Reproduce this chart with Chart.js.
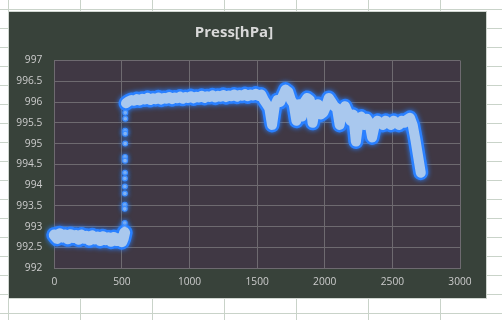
<!DOCTYPE html>
<html>
<head>
<meta charset="utf-8">
<script src="https://cdn.jsdelivr.net/npm/chart.js@4/dist/chart.umd.min.js"></script>
<style>
html,body{margin:0;padding:0;background:#fff;}
#wrap{position:absolute;left:0;top:0;width:502px;height:320px;}
</style>
</head>
<body>
<div id="wrap"><canvas id="c" width="502" height="320"></canvas></div>
<script>
// ---- data ----
const titleText = "Press[hPa]";
const xTicks = [0, 500, 1000, 1500, 2000, 2500, 3000];
const yTicks = [992, 992.5, 993, 993.5, 994, 994.5, 995, 995.5, 996, 996.5, 997];

const lowX = [0,20,40,60,80,100,120,140,160,180,200,220,240,260,280,300,320,340,360,380,400,420,440,460,480,500,510,520];
const lowP = [992.80,992.72,992.83,992.75,992.80,992.71,992.81,992.74,992.79,992.70,992.80,992.73,992.77,992.68,992.78,992.71,992.75,992.67,992.76,992.69,992.73,992.65,992.74,992.67,992.71,992.64,992.72,992.86];

const jumpX = [525,525,524,524,524,523,523,523,522,522,522,521,521,521,520];
const jumpP = [995.74,995.60,995.31,995.24,995.00,994.68,994.59,994.30,994.16,993.97,993.80,993.53,993.43,993.09,992.97];

const highX = [530,550,570,590,610,630,650,670,690,710,730,750,770,790,810,830,850,870,890,910,930,950,970,990,
  1010,1030,1050,1070,1090,1110,1130,1150,1170,1190,1210,1230,1250,1270,1290,1310,1330,1350,1370,1390,1410,1430,1450,1470,1490,
  1510,1530,1550,1570,1590,1610,1630,1650,1670,1690,1710,1730,1750,1770,1790,1810,1830,1850,1870,1890,1910,1930,1950,1970,1990,
  2010,2030,2050,2070,2090,2110,2130,2150,2170,2190,2210,2230,2250,2270,2290,2310,2330,2350,2370,2390,2410,2430,2450,2470,2490,
  2510,2530,2550,2570,2590,2610,2630,2650,2670,2690,2710];
const highP = [995.97,996.02,996.05,996.03,996.07,996.04,996.08,996.06,996.10,996.05,996.09,996.07,996.11,996.06,996.10,996.08,996.12,996.07,996.11,996.09,996.13,996.08,996.12,996.10,
  996.14,996.09,996.13,996.11,996.15,996.10,996.14,996.12,996.16,996.11,996.15,996.13,996.17,996.12,996.16,996.14,996.18,996.13,996.17,996.15,996.19,996.14,996.18,996.16,996.20,
  996.15,996.18,996.05,995.95,995.85,995.45,995.90,996.05,996.00,996.15,996.30,996.25,996.05,995.95,995.55,995.95,995.65,996.00,996.10,996.05,995.50,995.85,995.95,995.70,995.75,
  995.90,996.10,996.00,995.90,995.85,995.45,995.80,995.90,995.75,995.55,995.70,995.05,995.55,995.65,995.45,995.60,995.50,995.15,995.45,995.55,995.50,995.45,995.55,995.50,995.45,
  995.55,995.50,995.45,995.55,995.50,995.58,995.62,995.45,995.10,994.70,994.30];

// ---- build ----
const pts = (xs, ys) => xs.map((x, i) => ({x: x, y: ys[i]}));
const lowData = pts(lowX, lowP);
const jumpData = pts(jumpX, jumpP);
const highData = pts(highX, highP);

const CORE = '#a9c8ee';
const GLOW = '#2a80ff';

function lineSet(data, color, width, glow) {
  return {
    data: data, showLine: true, borderColor: color, borderWidth: width,
    pointRadius: 0, borderJoinStyle: 'round', borderCapStyle: 'round',
    tension: 0, fill: false, glow: glow, clip: 10
  };
}

const sheetPlugin = {
  id: 'sheet',
  beforeDraw(chart) {
    const ctx = chart.ctx;
    ctx.save();
    ctx.fillStyle = '#ffffff';
    ctx.fillRect(0, 0, 502, 320);
    ctx.strokeStyle = '#c9d3c9';
    ctx.lineWidth = 1;
    for (let x = 8; x < 502; x += 72) {
      ctx.beginPath(); ctx.moveTo(x + 0.5, 0); ctx.lineTo(x + 0.5, 320); ctx.stroke();
    }
    for (let y = 9.3; y < 320; y += 19) {
      const yy = Math.round(y) + 0.5;
      ctx.beginPath(); ctx.moveTo(0, yy); ctx.lineTo(502, yy); ctx.stroke();
    }
    ctx.fillStyle = '#38423a';
    ctx.fillRect(8, 11.5, 479, 287.5);
    ctx.strokeStyle = '#d0d6d0';
    ctx.strokeRect(8.5, 11.5, 478, 287);
    const a = chart.chartArea;
    ctx.fillStyle = '#403844';
    ctx.fillRect(a.left, a.top, a.right - a.left, a.bottom - a.top);
    ctx.restore();
  },
  beforeDatasetDraw(chart, args) {
    const ds = chart.data.datasets[args.index];
    const ctx = chart.ctx;
    ctx.save();
    if (ds.glow) {
      ctx.shadowColor = ds.glow;
      ctx.shadowBlur = 5;
    }
  },
  afterDatasetDraw(chart) {
    chart.ctx.restore();
  }
};

const plain = (v) => String(v);

new Chart(document.getElementById('c'), {
  type: 'scatter',
  data: {
    datasets: [
      lineSet(highData, CORE, 10, null),
      lineSet(lowData, CORE, 11, null),
      {
        data: jumpData, showLine: false, pointRadius: 2.4,
        pointBackgroundColor: CORE, pointBorderColor: '#3d8dff', pointBorderWidth: 1.2,
        glow: GLOW
      },
      lineSet(highData, GLOW, 15, GLOW),
      lineSet(lowData, GLOW, 16, GLOW)
    ]
  },
  options: {
    responsive: false,
    animation: false,
    events: [],
    layout: { padding: { left: 8, right: 42, top: 11.5, bottom: 21 } },
    plugins: {
      legend: { display: false },
      tooltip: { enabled: false },
      title: {
        display: true, text: titleText, color: '#d9d9d9',
        font: { family: 'Open Sans', size: 15, weight: 'bold', lineHeight: 1.2 },
        padding: { top: 12, bottom: 19 }
      }
    },
    scales: {
      x: {
        type: 'linear', min: 0, max: 3000,
        afterBuildTicks: (s) => { s.ticks = xTicks.map(v => ({value: v})); },
        afterFit: (s) => { s.height = 30.7; },
        ticks: { color: '#cccccc', padding: 8, maxRotation: 0, callback: plain, font: { family: 'Open Sans', size: 10.2 } },
        grid: { color: '#6e6a70', lineWidth: 1, drawTicks: false },
        border: { color: '#6e6a70' }
      },
      y: {
        type: 'linear', min: 992, max: 997,
        afterBuildTicks: (s) => { s.ticks = yTicks.map(v => ({value: v})); },
        afterFit: (s) => { s.width = 46.3; },
        ticks: { color: '#cccccc', padding: 12, callback: plain, font: { family: 'Open Sans', size: 10.2 } },
        grid: { color: '#6e6a70', lineWidth: 1, drawTicks: false },
        border: { color: '#6e6a70' }
      }
    }
  },
  plugins: [sheetPlugin]
});
</script>
</body>
</html>
